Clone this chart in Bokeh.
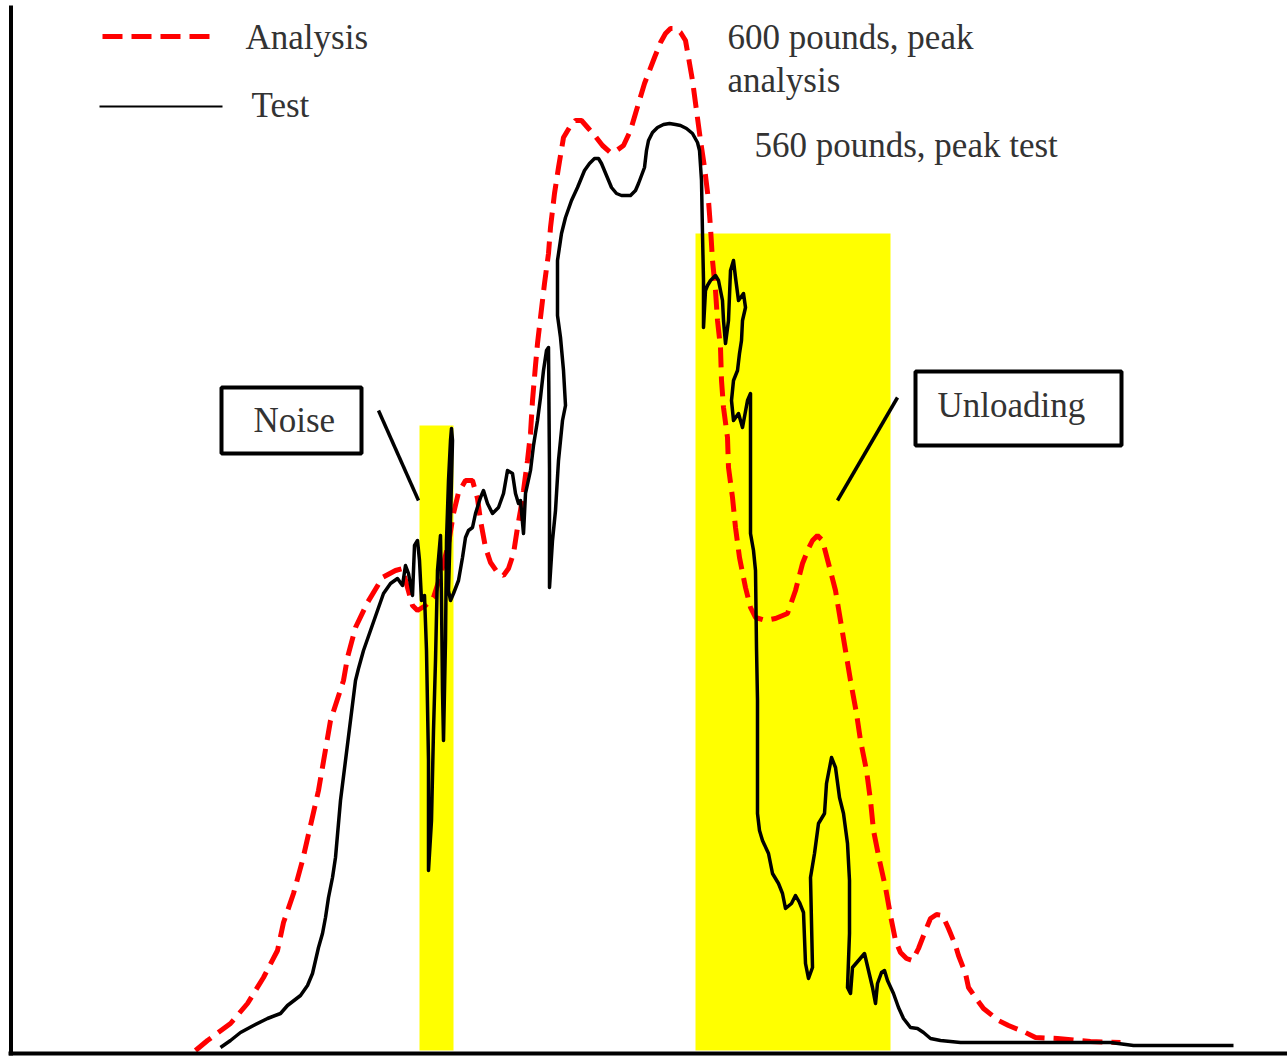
from bokeh.plotting import figure
from bokeh.models import Range1d
from bokeh.embed import file_html
from bokeh.resources import INLINE
from bokeh.core.properties import value

# ---- data (time index, load in chart units above baseline) ----
analysis_t = [195, 207, 230, 247, 263, 277, 283, 293, 302, 310, 318, 330, 343, 347, 355, 367, 382, 395, 402, 405,
              412, 417, 425, 433, 440, 448, 453, 458, 465, 472, 477, 480, 485, 490, 497, 503, 508, 513, 517, 520,
              523, 527, 530, 532, 535, 537, 540, 544, 548, 550, 554, 558, 563, 569, 575, 581, 588, 595, 602, 610,
              616, 623, 630, 635, 644, 654, 660, 665, 670, 675, 680, 685, 688, 692, 696, 700, 704, 708, 710, 712,
              715, 717, 720, 721, 723, 727, 728, 732, 735, 739, 745, 750, 755, 765, 775, 787, 795, 802, 808, 812,
              817, 822, 828, 835, 840, 845, 850, 856, 860, 866, 870, 873, 879, 885, 890, 895, 900, 906, 912, 918,
              925, 930, 936, 942, 948, 955, 958, 965, 968, 977, 983, 998, 1008, 1025, 1035, 1057, 1090, 1120]
analysis_load = [0, 10, 27, 47, 73, 100, 128, 157, 190, 225, 260, 330, 370, 393, 423, 448, 473, 480, 482, 470,
                 445, 440, 445, 453, 475, 507, 537, 558, 570, 570, 552, 530, 503, 488, 478, 475, 482, 497, 523, 540,
                 560, 590, 617, 650, 685, 707, 733, 767, 797, 823, 857, 883, 913, 923, 930, 930, 922, 914, 905, 898,
                 900, 905, 920, 937, 967, 993, 1008, 1017, 1022, 1022, 1018, 1010, 993, 970, 940, 910, 883, 850, 823, 790,
                 760, 730, 703, 670, 643, 613, 583, 553, 523, 493, 463, 443, 433, 430, 432, 437, 460, 487, 502, 510,
                 515, 510, 487, 460, 430, 400, 370, 337, 310, 280, 250, 220, 190, 163, 135, 110, 98, 92, 90, 102,
                 120, 132, 136, 135, 122, 105, 95, 77, 63, 50, 42, 30, 25, 18, 13, 12, 9, 8]

test_t = [220, 230, 240, 253, 267, 280, 287, 300, 307, 312, 315, 318, 322, 325, 328, 332, 335, 340, 345, 350,
          355, 358, 363, 370, 377, 383, 390, 397, 402, 405, 408, 412, 414, 417, 419, 421, 424, 426, 428, 428,
          431, 433, 435, 437, 440, 441, 442, 443, 445, 446, 448, 450, 451, 452, 450, 448, 450, 453, 458, 462,
          465, 468, 472, 475, 480, 483, 487, 492, 498, 503, 507, 512, 515, 518, 520, 523, 525, 530, 533, 537,
          540, 543, 546, 548, 549, 549, 552, 555, 558, 562, 565, 563, 560, 557, 557, 561, 565, 571, 577, 584,
          589, 594, 598, 601, 606, 611, 616, 621, 630, 635, 638, 644, 646, 648, 652, 657, 663, 669, 675, 680,
          686, 692, 697, 699, 701, 702, 703, 703, 705, 707, 710, 715, 718, 722, 723, 725, 728, 730, 733, 735,
          738, 743, 745, 742, 741, 739, 737, 733, 731, 733, 738, 742, 747, 750, 750, 753, 755, 756, 757, 757,
          759, 762, 768, 772, 778, 782, 785, 791, 795, 799, 803, 805, 808, 812, 810, 814, 818, 824, 826, 831,
          835, 839, 843, 847, 849, 849, 847, 850, 852, 858, 864, 868, 872, 875, 877, 881, 884, 887, 893, 898,
          903, 910, 917, 923, 930, 940, 960, 1013, 1110, 1133, 1233]
test_load = [3, 10, 18, 25, 32, 37, 45, 55, 65, 77, 90, 103, 117, 133, 153, 173, 193, 250, 290, 330,
             370, 382, 400, 420, 440, 457, 467, 472, 465, 485, 477, 455, 505, 510, 490, 450, 455, 400, 290, 180,
             230, 320, 390, 480, 515, 450, 360, 310, 410, 510, 570, 610, 622, 610, 530, 460, 450, 457, 470, 493,
             513, 520, 523, 537, 553, 560, 547, 537, 543, 557, 580, 577, 557, 547, 550, 517, 557, 580, 605, 630,
             653, 680, 700, 703, 580, 463, 510, 540, 590, 630, 645, 680, 713, 735, 790, 817, 833, 850, 863, 880,
             887, 892, 892, 887, 875, 863, 857, 855, 855, 860, 867, 883, 900, 910, 918, 923, 926, 927, 926, 925,
             922, 917, 908, 900, 870, 817, 770, 723, 760, 765, 770, 775, 770, 750, 730, 707, 730, 780, 790, 773,
             750, 757, 743, 730, 710, 697, 680, 670, 650, 630, 637, 623, 650, 657, 517, 500, 480, 403, 350, 237,
             220, 210, 197, 177, 167, 157, 142, 147, 155, 148, 138, 87, 72, 83, 173, 197, 227, 237, 267, 293,
             283, 253, 237, 207, 170, 117, 63, 57, 83, 90, 97, 80, 63, 47, 67, 78, 80, 70, 57, 43,
             32, 23, 22, 18, 12, 10, 8, 8, 8, 5, 5]

# highlighted regions (noise, unloading)
band_left = [419, 695]
band_right = [453, 890]
band_top = [625, 817]

series_names = ["Analysis", "Test"]

FONT = value("Liberation Serif")
TXT = "#333333"

p = figure(width=1287, height=1059, output_backend="svg", toolbar_location=None,
           x_range=Range1d(0, 1287), y_range=Range1d(-9, 1050),
           min_border=0, min_border_left=0, min_border_right=0, min_border_top=0, min_border_bottom=0,
           x_axis_location=None, y_axis_location=None)
p.outline_line_color = None
p.xgrid.visible = False
p.ygrid.visible = False
p.background_fill_color = "white"
p.border_fill_color = "white"

# yellow bands
p.quad(left=band_left, right=band_right, bottom=[0] * len(band_left), top=band_top,
       fill_color="#FFFF00", line_color=None)

# curves
p.line(analysis_t, analysis_load, line_color="#FF0000", line_width=5, line_dash="20 9")
p.line(test_t, test_load, line_color="black", line_width=3.5, line_join="round")

# axes lines
p.segment(x0=[10.5, 8], y0=[1045, -3], x1=[10.5, 1287], y1=[-5, -3], line_color="black", line_width=4)

# legend
p.line([102, 210], [1014, 1014], line_color="#FF0000", line_width=5, line_dash="20 9")
p.line([99, 222], [944, 944], line_color="black", line_width=2)
p.text(x=[245, 251], y=[1013, 945], text=series_names, text_font=FONT, text_font_size="35px",
       text_color=TXT, text_baseline="alphabetic", text_align="left")

# peak annotations
p.text(x=[727, 727, 754], y=[1013, 970, 905],
       text=["600 pounds, peak", "analysis", "560 pounds, peak test"],
       text_font=FONT, text_font_size="35px", text_color=TXT,
       text_baseline="alphabetic", text_align="left")

# boxed labels
p.quad(left=[221, 915], right=[361, 1121], bottom=[597, 605], top=[663, 679],
       fill_color="white", line_color="black", line_width=4)
p.text(x=[253, 937], y=[630, 645], text=["Noise", "Unloading"], text_font=FONT,
       text_font_size="35px", text_color=TXT, text_baseline="alphabetic", text_align="left")

# pointer lines
p.segment(x0=[378, 897], y0=[640, 653], x1=[418, 837], y1=[550, 550],
          line_color="black", line_width=3.5)

open("out.html", "w").write(file_html(p, INLINE))
